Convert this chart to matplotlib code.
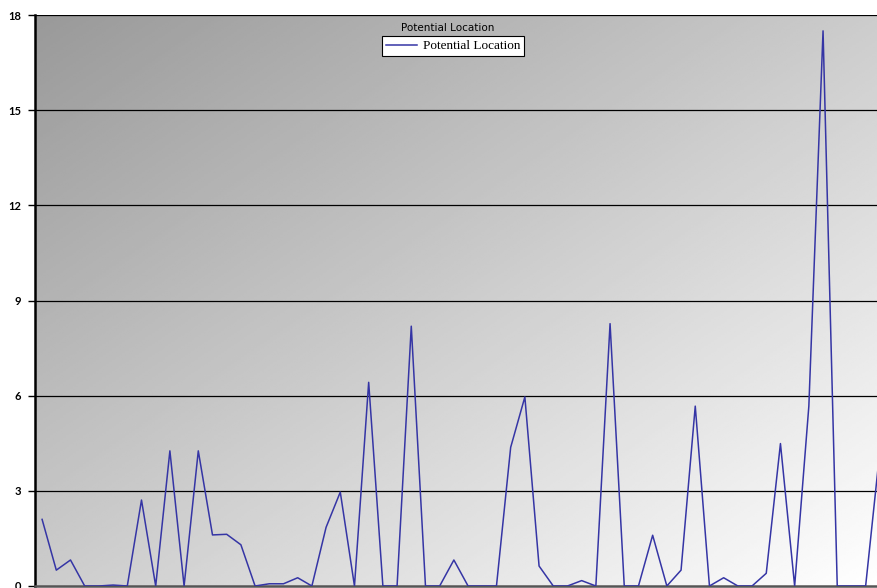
import numpy as np
import matplotlib
matplotlib.use('Agg')
import matplotlib.pyplot as plt

# valores
valores = [2.1, 0.5, 0.82, 0, 0, 0.03, 0, 2.71, 0, 4.26,
           0, 4.26, 1.61, 1.63, 1.3, 0, 0.07, 0.07, 0.26, 0,
           1.85, 2.96, 0, 6.42, 0, 0, 8.19, 0, 0, 0.82,
           0, 0, 0, 4.37, 5.96, 0.63, 0, 0, 0.17, 0,
           8.27, 0, 0, 1.6, 0, 0.5, 5.67, 0, 0.26, 0,
           0, 0.4, 4.49, 0, 5.67, 17.5, 0, 0, 0, 4.26]
etiqueta = 'Potential Location'
ticks_y = [0, 3, 6, 9, 12, 15, 18]

fig = plt.figure(figsize=(8.77, 5.88), dpi=100)
ax = fig.add_axes([35 / 877, 2 / 588, 1 - 35 / 877, (586 - 15) / 588])

# fondo degradado diagonal
n = 256
u = np.linspace(0, 1, n)
uu, vv = np.meshgrid(u, u)
t = (uu + vv) / 2
gris = 153 / 255 + (1 - 153 / 255) * t
ax.imshow(gris, cmap='gray', vmin=0, vmax=1, extent=[0, 1, 0, 1],
          transform=ax.transAxes, aspect='auto', zorder=0, origin='upper')

x = np.arange(len(valores))
ax.plot(x, valores, color='#3535a5', linewidth=1.1, zorder=3, label=etiqueta)

ax.set_xlim(-0.5, 58.8)
ax.set_ylim(0, 18)
ax.set_yticks(ticks_y)
ax.set_yticklabels([str(v) for v in ticks_y], fontsize=8, family='Lato',
                   fontweight='bold')
ax.set_xticks([])
ax.tick_params(axis='y', length=5, width=1, pad=5, color='black')

for v in ticks_y[1:]:
    ax.axhline(v, color='black', linewidth=0.9, zorder=2)

ax.spines['left'].set_linewidth(1.8)
ax.spines['left'].set_color('black')
ax.spines['bottom'].set_linewidth(1.8)
ax.spines['bottom'].set_color('#555555')
ax.spines['top'].set_visible(False)
ax.spines['right'].set_visible(False)

leg = ax.legend(loc='upper center', bbox_to_anchor=(453 / 877, 1 - 36 / 588),
                bbox_transform=fig.transFigure, frameon=True, fancybox=False,
                prop={'family': 'Liberation Serif', 'size': 9.5},
                handlelength=2.4, handletextpad=0.4, borderpad=0.3,
                borderaxespad=0)
leg.get_frame().set_edgecolor('black')
leg.get_frame().set_facecolor('white')
leg.get_frame().set_alpha(1)
leg.get_frame().set_linewidth(0.8)

fig.text(448 / 877, 1 - 28 / 588, etiqueta, ha='center', va='center',
         fontsize=7.5, family='DejaVu Sans')

plt.savefig('out.png', dpi=100)
